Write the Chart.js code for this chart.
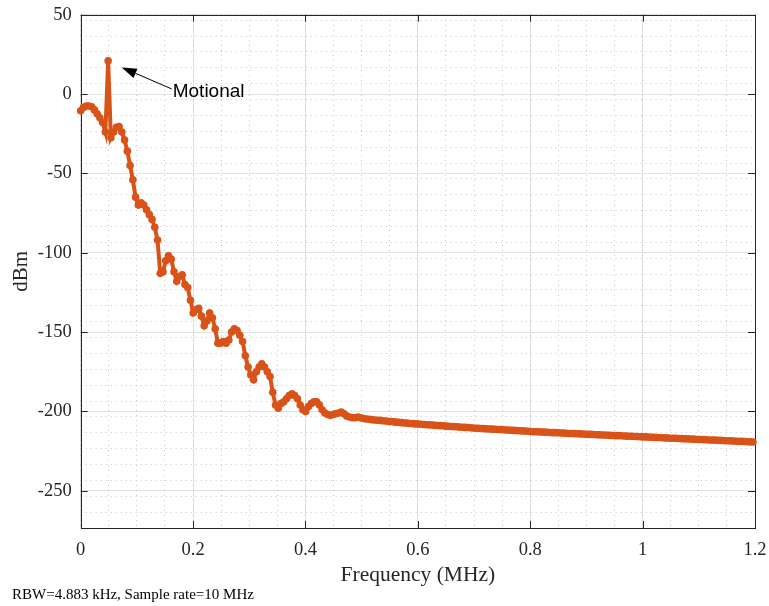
<!DOCTYPE html>
<html>
<head>
<meta charset="utf-8">
<script src="https://cdn.jsdelivr.net/npm/chart.js@4"></script>
<style>
  html, body { margin: 0; padding: 0; background: #fff; }
  #box { width: 769px; height: 606px; position: relative; }
</style>
</head>
<body>
<div id="box"><canvas id="grafico"></canvas></div>
<script>
// resolução do espectro (MHz por bin)
const rbw = 0.004883;

// potência em dBm, um valor por bin (bin 0 .. 245)
const potencia = [
  -10.5, -8.5, -7.5, -7.5, -8, -10, -12.5, -15, -18, -24,
  21, -27.5, -24, -21, -20.5, -24, -29, -36, -45, -54,
  -65, -70, -68.5, -70, -73, -76, -79, -84, -92, -113,
  -112, -105, -102, -104, -112, -118, -115, -114, -120, -122,
  -130, -138, -136, -135, -140, -146, -143, -138, -141, -148,
  -157, -157, -156, -157, -155, -150, -148, -149, -152, -156,
  -165, -172, -177, -180, -175, -172, -170, -172, -175, -178,
  -188, -196, -198, -195, -194, -192, -190, -189, -190, -192,
  -196, -199, -200, -197, -195, -194, -194, -196, -199, -201,
  -202, -202.5, -202, -201.5, -201, -200.5, -201.5, -203, -203.5, -204,
  -204, -203.5, -204, -204.5, -204.8, -205.0, -205.2, -205.4, -205.6, -205.7,
  -205.9, -206.1, -206.3, -206.4, -206.6, -206.8, -206.9, -207.1, -207.3, -207.4,
  -207.6, -207.7, -207.9, -208.0, -208.1, -208.3, -208.4, -208.5, -208.6, -208.8,
  -208.9, -209.0, -209.1, -209.3, -209.4, -209.5, -209.6, -209.7, -209.9, -210.0,
  -210.1, -210.2, -210.3, -210.5, -210.6, -210.7, -210.8, -210.9, -211.0, -211.1,
  -211.2, -211.3, -211.4, -211.5, -211.6, -211.7, -211.8, -211.9, -212.0, -212.1,
  -212.2, -212.3, -212.4, -212.5, -212.7, -212.8, -212.8, -212.9, -213.0, -213.1,
  -213.2, -213.3, -213.4, -213.4, -213.5, -213.6, -213.7, -213.8, -213.9, -213.9,
  -214.0, -214.1, -214.2, -214.3, -214.4, -214.5, -214.5, -214.6, -214.7, -214.8,
  -214.9, -214.9, -215.0, -215.1, -215.2, -215.3, -215.3, -215.4, -215.5, -215.6,
  -215.7, -215.7, -215.8, -215.9, -216.0, -216.1, -216.1, -216.2, -216.3, -216.4,
  -216.5, -216.5, -216.6, -216.7, -216.8, -216.9, -216.9, -217.0, -217.1, -217.2,
  -217.3, -217.3, -217.4, -217.5, -217.6, -217.7, -217.7, -217.8, -217.9, -218.0,
  -218.1, -218.1, -218.2, -218.3, -218.4, -218.5, -218.5, -218.6, -218.7, -218.8,
  -218.9, -218.9, -219.0, -219.1, -219.2, -219.3
];

// limites e marcas dos eixos
const xLim = [0, 1.2];
const yLim = [-273.5, 50];
const xTicks = [0, 0.2, 0.4, 0.6, 0.8, 1, 1.2];
const yTicks = [-250, -200, -150, -100, -50, 0, 50];

// seta "Motional": ponta, cauda e texto em coordenadas de dados
const seta = { ponta: [0.073, 16.8], cauda: [0.162, 3.2], texto: "Motional" };
const rodape = "RBW=4.883 kHz, Sample rate=10 MHz";

const pontos = potencia.map((v, i) => ({ x: i * rbw, y: v }));

const laranja = "#D95319";
const serif = "'Liberation Serif', 'Times New Roman', serif";

// tira o espaço extra que o Chart.js reserva para rótulos nas bordas
function semPadding(s) {
  s.paddingLeft = 0; s.paddingRight = 0; s.paddingTop = 0; s.paddingBottom = 0;
}

// moldura, marcas internas, seta e rodapé
const extras = {
  id: "extras",
  beforeDatasetsDraw(chart) {
    const { ctx, chartArea: a } = chart;
    const sx = chart.scales.x, sy = chart.scales.y;
    ctx.save();
    ctx.strokeStyle = "#262626";
    ctx.lineWidth = 1;
    ctx.beginPath();
    xTicks.forEach(t => {
      const px = Math.round(sx.getPixelForValue(t)) + 0.5;
      ctx.moveTo(px, a.bottom); ctx.lineTo(px, a.bottom - 7);
      ctx.moveTo(px, a.top); ctx.lineTo(px, a.top + 7);
    });
    yTicks.forEach(t => {
      const py = Math.round(sy.getPixelForValue(t)) + 0.5;
      ctx.moveTo(a.left, py); ctx.lineTo(a.left + 7, py);
      ctx.moveTo(a.right, py); ctx.lineTo(a.right - 7, py);
    });
    ctx.stroke();
    ctx.strokeRect(Math.round(a.left) + 0.5, Math.round(a.top) + 0.5,
      Math.round(a.right - a.left), Math.round(a.bottom - a.top));
    ctx.restore();
  },
  afterDatasetsDraw(chart) {
    const { ctx } = chart;
    const sx = chart.scales.x, sy = chart.scales.y;
    const px = sx.getPixelForValue(seta.ponta[0]), py = sy.getPixelForValue(seta.ponta[1]);
    const cx = sx.getPixelForValue(seta.cauda[0]), cy = sy.getPixelForValue(seta.cauda[1]);
    const ang = Math.atan2(py - cy, px - cx);
    const L = 15, W = 5;
    const bx = px - L * Math.cos(ang), by = py - L * Math.sin(ang);
    ctx.save();
    ctx.strokeStyle = "#000";
    ctx.fillStyle = "#000";
    ctx.lineWidth = 1;
    ctx.beginPath();
    ctx.moveTo(cx, cy); ctx.lineTo(bx, by);
    ctx.stroke();
    ctx.beginPath();
    ctx.moveTo(px, py);
    ctx.lineTo(bx + W * Math.sin(ang), by - W * Math.cos(ang));
    ctx.lineTo(bx - W * Math.sin(ang), by + W * Math.cos(ang));
    ctx.closePath();
    ctx.fill();
    ctx.font = "19px 'Liberation Sans', Arial, sans-serif";
    ctx.textAlign = "left";
    ctx.textBaseline = "alphabetic";
    ctx.fillText(seta.texto, cx + 1, sy.getPixelForValue(-2.1));
    ctx.font = "15px " + serif;
    ctx.fillText(rodape, 12, 599);
    ctx.restore();
  }
};

new Chart(document.getElementById("grafico"), {
  type: "line",
  data: {
    datasets: [{
      data: pontos,
      borderColor: laranja,
      backgroundColor: laranja,
      borderWidth: 4,
      pointRadius: 3.8,
      pointBorderWidth: 0,
      pointBackgroundColor: laranja,
      tension: 0,
      clip: false
    }]
  },
  options: {
    responsive: true,
    maintainAspectRatio: false,
    animation: false,
    layout: { padding: { left: 0, right: 14, top: 14.7, bottom: 0 } },
    plugins: { legend: { display: false }, tooltip: { enabled: false } },
    scales: {
      x: {
        type: "linear", position: "bottom",
        min: xLim[0], max: xLim[1],
        afterFit: s => { s.height = 78; semPadding(s); },
        afterBuildTicks: s => { s.ticks = xTicks.map(v => ({ value: v })); },
        ticks: {
          padding: 11, color: "#262626", maxRotation: 0, autoSkip: false,
          font: { family: serif, size: 18.5 },
          callback: v => String(+v.toFixed(1))
        },
        grid: { color: "#e3e3e3", lineWidth: 1, drawTicks: false },
        border: { display: false },
        title: {
          display: true, text: "Frequency (MHz)", color: "#262626",
          font: { family: serif, size: 21.5 }, padding: { top: 0, bottom: 18 }
        }
      },
      y: {
        type: "linear", position: "left", bounds: "data",
        min: yLim[0], max: yLim[1],
        afterFit: s => { s.width = 80.7; semPadding(s); },
        afterBuildTicks: s => { s.ticks = yTicks.map(v => ({ value: v })); },
        ticks: {
          padding: 9, color: "#262626", autoSkip: false,
          font: { family: serif, size: 18.5 },
          callback: v => String(v)
        },
        grid: { color: "#e3e3e3", lineWidth: 1, drawTicks: false },
        border: { display: false },
        title: {
          display: true, text: "dBm", color: "#262626",
          font: { family: serif, size: 21 }, padding: { top: 9, bottom: 0 }
        }
      },
      xMenor: {
        type: "linear", position: "top",
        min: xLim[0], max: xLim[1],
        afterFit: s => { s.height = 0; semPadding(s); },
        ticks: { display: false, stepSize: 0.05 },
        grid: { color: "#c8c8c8", lineWidth: 1, drawTicks: false },
        border: { display: false, dash: [1, 4] }
      },
      yMenor: {
        type: "linear", position: "right", bounds: "data",
        min: yLim[0], max: yLim[1],
        afterFit: s => { s.width = 0; semPadding(s); },
        ticks: { display: false, stepSize: 10, includeBounds: false },
        grid: { color: "#c8c8c8", lineWidth: 1, drawTicks: false },
        border: { display: false, dash: [1, 4] }
      }
    }
  },
  plugins: [extras]
});
</script>
</body>
</html>
